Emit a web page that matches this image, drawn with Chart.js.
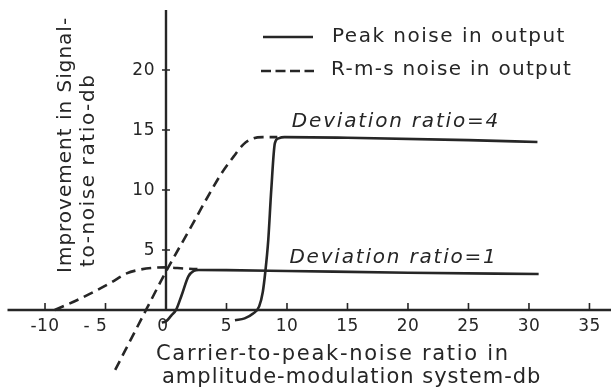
<!DOCTYPE html>
<html lang="en">
<head>
<meta charset="UTF-8">
<title>Improvement in signal-to-noise ratio</title>
<script src="https://cdn.jsdelivr.net/npm/chart.js"></script>
<style>
  body { margin: 0; background: #fff; }
  #wrap { width: 611px; height: 390px; }
</style>
</head>
<body>
<div id="wrap"><canvas id="grafico" width="611" height="390"></canvas></div>
<script>
// tick values on both axes
const xTicks = [-10, -5, 0, 5, 10, 15, 20, 25, 30, 35];
const yTicks = [5, 10, 15, 20];

// peak noise in output, deviation ratio = 1 (solid)
const peak1X = [-0.35, 0.0, 0.45, 0.83, 1.3, 1.85, 2.3, 2.7, 5, 10, 20, 30.8];
const peak1Y = [-1.05, -0.95, -0.45, 0.0, 1.25, 2.8, 3.25, 3.33, 3.32, 3.25, 3.1, 3.0];

// peak noise in output, deviation ratio = 4 (solid)
const peak4X = [5.7, 6.5, 7.2, 7.7, 8.0, 8.2, 8.45, 8.7, 9.0, 9.3, 9.8, 15, 25, 30.7];
const peak4Y = [-0.85, -0.7, -0.3, 0.3, 1.5, 3.1, 5.8, 10.0, 13.9, 14.3, 14.4, 14.35, 14.15, 14.0];

// r-m-s noise in output, deviation ratio = 1 (dashed)
const rms1X = [-9.2, -7.5, -6.0, -4.5, -3.25, -2.2, -1.2, 0, 1.5, 2.6];
const rms1Y = [0.0, 0.75, 1.5, 2.3, 3.05, 3.35, 3.5, 3.55, 3.45, 3.4];

// r-m-s noise in output, deviation ratio = 4 (dashed)
const rms4X = [-4.2, -1.65, 0, 2.0, 3.6, 4.6, 5.6, 6.4, 7.2, 8.0, 9.2];
const rms4Y = [-5.0, 0.0, 3.2, 6.8, 9.7, 11.4, 12.8, 13.8, 14.3, 14.4, 14.4];

const ink = '#262626';
const letra = "'DejaVu Sans', sans-serif";

function pontos(xs, ys) {
  return xs.map(function (v, i) { return { x: v, y: ys[i] }; });
}

function serie(xs, ys, tracejado) {
  return {
    data: pontos(xs, ys),
    borderColor: ink,
    borderWidth: 2.6,
    borderDash: tracejado ? [10, 6] : [],
    pointRadius: 0,
    fill: false,
    cubicInterpolationMode: 'monotone',
    showLine: true
  };
}

function texto(ctx, s, x, y, opts) {
  ctx.save();
  ctx.font = opts.font;
  ctx.letterSpacing = opts.spacing || '0px';
  ctx.textAlign = opts.align || 'left';
  ctx.textBaseline = 'middle';
  ctx.fillStyle = ink;
  ctx.fillText(s, x, y);
  ctx.restore();
}

// axes through the origin, drawn from the chart's own scales
const eixos = {
  id: 'eixos',
  beforeDatasetsDraw(chart) {
    const ctx = chart.ctx;
    const x = chart.scales.x, y = chart.scales.y;
    const x0 = x.getPixelForValue(0), y0 = y.getPixelForValue(0);
    ctx.save();
    ctx.strokeStyle = ink;
    ctx.lineWidth = 2.4;
    ctx.beginPath();
    ctx.moveTo(x.getPixelForValue(-13.1), y0);
    ctx.lineTo(x.right, y0);
    ctx.moveTo(x0, y0);
    ctx.lineTo(x0, y.getPixelForValue(25));
    ctx.stroke();

    ctx.lineWidth = 1.6;
    ctx.beginPath();
    xTicks.forEach(function (t) {
      if (t === 0) return;
      const px = x.getPixelForValue(t);
      ctx.moveTo(px, y0 - 7);
      ctx.lineTo(px, y0);
    });
    yTicks.forEach(function (t) {
      const py = y.getPixelForValue(t);
      ctx.moveTo(x0 - 4, py);
      ctx.lineTo(x0 + 4, py);
    });
    ctx.stroke();
    ctx.restore();

    xTicks.forEach(function (t) {
      const s = t < 0 ? (t === -5 ? '- 5' : '-' + Math.abs(t)) : String(t);
      let dx = 0;
      if (t === 0) dx = -3;
      if (t === -5) dx = -10;
      texto(ctx, s, x.getPixelForValue(t) + dx, y0 + 17, { font: '17px ' + letra, align: 'center', spacing: '0.5px' });
    });
    yTicks.forEach(function (t) {
      texto(ctx, String(t), x0 - 11, y.getPixelForValue(t) + 1, { font: '17px ' + letra, align: 'right', spacing: '0.5px' });
    });
  },
  afterDraw(chart) {
    const ctx = chart.ctx;
    const x = chart.scales.x, y = chart.scales.y;

    // legend
    ctx.save();
    ctx.strokeStyle = ink;
    ctx.lineWidth = 2.6;
    ctx.beginPath();
    ctx.moveTo(263, 37);
    ctx.lineTo(313, 37);
    ctx.stroke();
    ctx.setLineDash([10, 4.5]);
    ctx.beginPath();
    ctx.moveTo(261, 71);
    ctx.lineTo(314, 71);
    ctx.stroke();
    ctx.restore();
    texto(ctx, 'Peak noise in output', 332, 37, { font: '20px ' + letra, spacing: '1.5px' });
    texto(ctx, 'R-m-s noise in output', 331, 70, { font: '20px ' + letra, spacing: '1.3px' });

    // curve labels
    texto(ctx, 'Deviation ratio=4', x.getPixelForValue(10.4), y.getPixelForValue(15.7), { font: 'italic 20px ' + letra, spacing: '1.8px' });
    texto(ctx, 'Deviation ratio=1', x.getPixelForValue(10.2), y.getPixelForValue(4.35), { font: 'italic 20px ' + letra, spacing: '1.8px' });

    // axis titles
    texto(ctx, 'Carrier-to-peak-noise ratio in', 156, 355, { font: '21px ' + letra, spacing: '1.7px' });
    texto(ctx, 'amplitude-modulation system-db', 162, 378, { font: '21px ' + letra, spacing: '1.0px' });

    ctx.save();
    ctx.translate(66, 273);
    ctx.rotate(-Math.PI / 2);
    texto(ctx, 'Improvement in Signal-', 0, 0, { font: '20px ' + letra, spacing: '1.0px' });
    texto(ctx, 'to-noise ratio-db', 6, 23, { font: '20px ' + letra, spacing: '1.6px' });
    ctx.restore();
  }
};

new Chart(document.getElementById('grafico'), {
  type: 'scatter',
  data: {
    datasets: [
      serie(peak1X, peak1Y, false),
      serie(peak4X, peak4Y, false),
      serie(rms1X, rms1Y, true),
      serie(rms4X, rms4Y, true)
    ]
  },
  options: {
    responsive: false,
    animation: false,
    layout: { padding: 0 },
    plugins: { legend: { display: false }, tooltip: { enabled: false } },
    scales: {
      x: { type: 'linear', min: -13.72, max: 36.78, display: false },
      y: { type: 'linear', min: -6.67, max: 25.83, display: false }
    }
  },
  plugins: [eixos]
});
</script>
</body>
</html>
